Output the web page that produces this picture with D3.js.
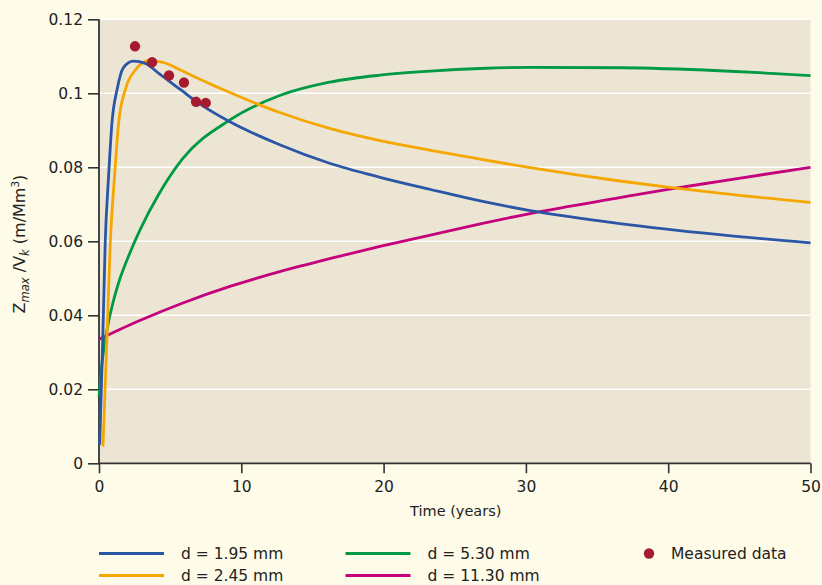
<!DOCTYPE html>
<html>
<head>
<meta charset="utf-8">
<script src="https://cdn.jsdelivr.net/npm/d3@7"></script>
<style>
  html, body { margin: 0; padding: 0; background: #FEFCE8; }
  svg { display: block; }
  text { font-family: "DejaVu Sans", Verdana, sans-serif; fill: #222; }
</style>
</head>
<body>
<svg id="chart" width="822" height="585"></svg>
<script>
// ---- Data ----
const xTicks = [0, 10, 20, 30, 40, 50];
const yTicks = [0, 0.02, 0.04, 0.06, 0.08, 0.1, 0.12];
const yTickLabels = ["0", "0.02", "0.04", "0.06", "0.08", "0.1", "0.12"];

const seriesNames = ["d = 1.95 mm", "d = 2.45 mm", "d = 5.30 mm", "d = 11.30 mm"];
const seriesColors = ["#2A56A6", "#F5A700", "#009944", "#C4007C"];

const d195 = [
  [0.05, 0.005], [0.26, 0.033], [0.44, 0.060], [0.68, 0.078], [0.91, 0.092],
  [1.27, 0.101], [1.73, 0.107], [2.4, 0.1087], [3.25, 0.1081], [4.2, 0.1054],
  [5.13, 0.1027], [5.83, 0.1007], [6.8, 0.0979], [9.2, 0.0923], [12.7, 0.0861],
  [16.2, 0.0811], [19.75, 0.0773], [23.3, 0.0740], [26.8, 0.0709], [30.3, 0.0683],
  [36.6, 0.0648], [43.6, 0.0618], [50, 0.0596]
];
const d245 = [
  [0.28, 0.0045], [0.55, 0.033], [0.8, 0.060], [1.1, 0.078], [1.38, 0.092],
  [1.85, 0.101], [2.55, 0.1063], [3.49, 0.1088], [4.43, 0.1084], [5.36, 0.1070],
  [5.83, 0.1061], [9.2, 0.1002], [12.7, 0.0948], [16.2, 0.0905], [19.75, 0.0872],
  [23.3, 0.0846], [26.8, 0.0822], [30.3, 0.0799], [36.6, 0.0763], [40.1, 0.0746],
  [43.6, 0.0730], [50, 0.0705]
];
const d530 = [
  [0, 0.018], [0.21, 0.027], [0.56, 0.036], [0.91, 0.0423], [1.38, 0.0488],
  [2.08, 0.0560], [2.9, 0.0632], [4.2, 0.0727], [5.85, 0.0822], [9.2, 0.0928],
  [12.7, 0.0994], [16.2, 0.1030], [19.75, 0.1049], [23.3, 0.1060], [26.8, 0.1067],
  [30.3, 0.1070], [36.6, 0.1069], [43.6, 0.1061], [47.2, 0.1054], [50, 0.1048]
];
const d1130 = [
  [0, 0.0335], [2.7, 0.0383], [5.8, 0.0432], [9.2, 0.0478], [12.7, 0.0518],
  [16.2, 0.0553], [19.75, 0.0586], [23.3, 0.0617], [26.8, 0.0647], [30.3, 0.0675],
  [36.6, 0.0718], [40.1, 0.0741], [43.6, 0.0762], [50, 0.080]
];
const measuredT = [2.53, 3.73, 4.92, 5.97, 6.82, 7.5];
const measuredV = [0.1127, 0.1084, 0.1048, 0.1029, 0.0977, 0.0974];

const seriesData = [d195, d245, d530, d1130];

// ---- Layout ----
const svg = d3.select("#chart");
const pLeft = 99, pRight = 810.5, pTop = 19.3, pBottom = 463.3;

const x = d3.scaleLinear().domain([0, 50]).range([pLeft, pRight]);
const y = d3.scaleLinear().domain([0, 0.12]).range([pBottom, pTop]);

// plot background
svg.append("rect")
  .attr("x", pLeft).attr("y", pTop)
  .attr("width", pRight - pLeft).attr("height", pBottom - pTop)
  .attr("fill", "#EDE5D4");

// grid lines
svg.append("g")
  .selectAll("line")
  .data(yTicks.filter(d => d > 0))
  .join("line")
  .attr("x1", pLeft).attr("x2", pRight)
  .attr("y1", d => y(d)).attr("y2", d => y(d))
  .attr("stroke", "#FFFFFF").attr("stroke-width", 1.6);

// axes
const xAxis = d3.axisBottom(x).tickValues(xTicks).tickSize(10).tickPadding(8)
  .tickFormat(d3.format("d"));
const yAxis = d3.axisLeft(y).tickValues(yTicks).tickSize(11).tickPadding(5)
  .tickFormat((d, i) => yTickLabels[i]);

const gx = svg.append("g").attr("transform", `translate(0,${pBottom})`).call(xAxis);
const gy = svg.append("g").attr("transform", `translate(${pLeft},0)`).call(yAxis);

[gx, gy].forEach(g => {
  g.select(".domain").attr("stroke", "#333").attr("stroke-width", 1.8);
  g.selectAll(".tick line").attr("stroke", "#333").attr("stroke-width", 1.6);
  g.selectAll(".tick text")
    .attr("font-family", '"DejaVu Sans", Verdana, sans-serif')
    .attr("font-size", 15.5).attr("fill", "#222");
});
gx.select(".domain").attr("d", `M${pLeft},0H${pRight}`);
gy.select(".domain").attr("d", `M0,${pBottom}V${pTop}`);

// axis titles
svg.append("text")
  .attr("x", (pLeft + pRight) / 2 + 1).attr("y", 516)
  .attr("text-anchor", "middle")
  .attr("font-size", 14.5)
  .text("Time (years)");

const yl = svg.append("text")
  .attr("transform", "translate(25,244) rotate(-90)")
  .attr("text-anchor", "middle")
  .attr("font-size", 16);
yl.append("tspan").text("Z");
yl.append("tspan").attr("font-size", 11.5).attr("font-style", "italic").attr("dy", 4).text("max");
yl.append("tspan").attr("dy", -4).text(" /V");
yl.append("tspan").attr("font-size", 11.5).attr("font-style", "italic").attr("dy", 4).text("k");
yl.append("tspan").attr("dy", -4).text(" (m/Mm");
yl.append("tspan").attr("font-size", 10.5).attr("dy", -6).text("3");
yl.append("tspan").attr("dy", 6).text(")");

// lines
const line = d3.line()
  .x(d => x(d[0])).y(d => y(d[1]))
  .curve(d3.curveMonotoneX);

const plot = svg.append("g");
// draw order: magenta, green, orange, blue
[3, 2, 1, 0].forEach(i => {
  plot.append("path")
    .datum(seriesData[i])
    .attr("d", line)
    .attr("fill", "none")
    .attr("stroke", seriesColors[i])
    .attr("stroke-width", 2.8)
    .attr("stroke-linejoin", "round");
});

// measured data
plot.selectAll("circle.meas")
  .data(measuredT.map((t, i) => [t, measuredV[i]]))
  .join("circle")
  .attr("class", "meas")
  .attr("cx", d => x(d[0])).attr("cy", d => y(d[1]))
  .attr("r", 5.2)
  .attr("fill", "#A51C30");

// legend
const legendPos = [
  { lx: 99, ly: 553.5 },
  { lx: 99, ly: 575.5 },
  { lx: 345.5, ly: 553.5 },
  { lx: 345.5, ly: 575.5 }
];
const lg = svg.append("g");
seriesNames.forEach((name, i) => {
  const p = legendPos[i];
  lg.append("line")
    .attr("x1", p.lx).attr("x2", p.lx + 65)
    .attr("y1", p.ly).attr("y2", p.ly)
    .attr("stroke", seriesColors[i]).attr("stroke-width", 3);
  lg.append("text")
    .attr("x", p.lx + 82).attr("y", p.ly + 5.5)
    .attr("font-size", 15.5)
    .text(name);
});
lg.append("circle").attr("cx", 649).attr("cy", 553.5).attr("r", 5.2).attr("fill", "#A51C30");
lg.append("text").attr("x", 671).attr("y", 559).attr("font-size", 15.5).text("Measured data");
</script>
</body>
</html>
